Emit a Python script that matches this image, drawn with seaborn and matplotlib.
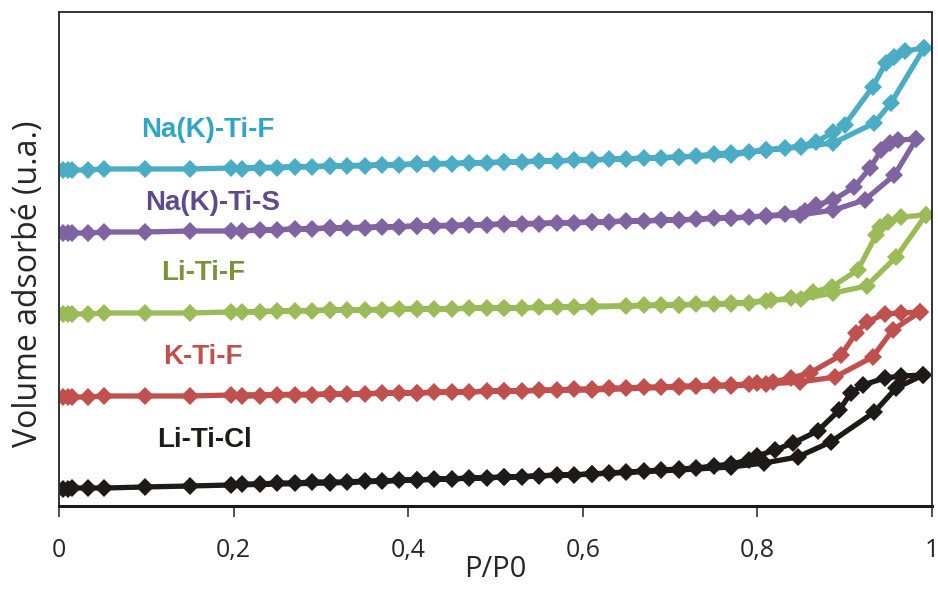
import matplotlib
matplotlib.use("Agg")
import matplotlib.pyplot as plt
import seaborn as sns
import pandas as pd

# ---------------- data (arbitrary units) ----------------
samples = ["Li-Ti-Cl", "K-Ti-F", "Li-Ti-F", "Na(K)-Ti-S", "Na(K)-Ti-F"]

line_colors = ["#1E1A1A", "#C0504D", "#9BBB59", "#8064A2", "#4BACC6"]
label_colors = ["#1E1A1A", "#C0504D", "#77933C", "#5F4B8B", "#31A5C4"]

# label anchor positions (P/P0, volume)
label_x = [0.167, 0.165, 0.165, 0.176, 0.170]
label_y = [66, 149, 233, 303, 376]

# adsorption branch
ads_x = [0.005, 0.01, 0.015, 0.033, 0.052, 0.098, 0.15, 0.197,
         0.31, 0.41, 0.51, 0.61, 0.71, 0.77]
ads_x_hyst = {
    "Li-Ti-Cl":   [0.808, 0.846, 0.884, 0.934, 0.959, 0.99],
    "K-Ti-F":     [0.81, 0.849, 0.889, 0.932, 0.955, 0.986],
    "Li-Ti-F":    [0.816, 0.85, 0.887, 0.925, 0.959, 0.993],
    "Na(K)-Ti-S": [0.81, 0.849, 0.887, 0.923, 0.957, 0.982],
    "Na(K)-Ti-F": [0.81, 0.85, 0.887, 0.934, 0.953, 0.991],
}
ads_y = {
    "Li-Ti-Cl":   [17, 17, 18, 18, 18, 19, 20, 21, 23, 26, 29, 32, 36, 39,
                   43, 49, 64, 94, 118, 131],
    "K-Ti-F":     [109, 109, 109, 109, 110, 110, 110, 111, 112, 113, 115, 116, 119, 120,
                   122, 124, 129, 149, 176, 194],
    "Li-Ti-F":    [192, 192, 192, 192, 193, 193, 193, 194, 196, 197, 198, 199, 201, 202,
                   206, 207, 213, 220, 249, 291],
    "Na(K)-Ti-S": [273, 273, 273, 273, 274, 274, 275, 275, 278, 280, 282, 284, 286, 288,
                   290, 291, 296, 306, 331, 367],
    "Na(K)-Ti-F": [336, 336, 336, 336, 337, 337, 337, 338, 340, 342, 344, 346, 349, 351,
                   356, 359, 363, 383, 403, 458],
}

# desorption branch
des_grid_x = [0.79, 0.77, 0.75, 0.73, 0.71, 0.69, 0.67, 0.65, 0.63, 0.61,
              0.59, 0.57, 0.55, 0.53, 0.51, 0.49, 0.47, 0.45, 0.43, 0.41,
              0.39, 0.37, 0.35, 0.33, 0.31, 0.29, 0.27, 0.25, 0.23, 0.21]
des_grid_x_litif = [0.79, 0.77, 0.75, 0.73, 0.71, 0.69, 0.67, 0.65, 0.61,
                    0.59, 0.57, 0.55, 0.53, 0.51, 0.49, 0.47, 0.45, 0.43, 0.41,
                    0.39, 0.37, 0.35, 0.33, 0.31, 0.29, 0.27, 0.25, 0.23, 0.21]
des_x_hyst = {
    "Li-Ti-Cl":   [0.99, 0.965, 0.946, 0.921, 0.907, 0.894, 0.869, 0.841, 0.82, 0.80],
    "K-Ti-F":     [0.986, 0.965, 0.946, 0.925, 0.913, 0.896, 0.86, 0.838, 0.818, 0.80],
    "Li-Ti-F":    [0.993, 0.965, 0.95, 0.94, 0.936, 0.915, 0.885, 0.864, 0.839, 0.81],
    "Na(K)-Ti-S": [0.982, 0.961, 0.952, 0.942, 0.929, 0.911, 0.887, 0.867, 0.855, 0.832, 0.81],
    "Na(K)-Ti-F": [0.991, 0.969, 0.957, 0.947, 0.932, 0.90, 0.887, 0.867, 0.85, 0.832, 0.81],
}
des_y = {
    "Li-Ti-Cl":   [131, 130, 128, 121, 113, 96, 75, 63, 56, 50,
                   46, 42, 40, 38, 37, 36, 35, 34, 33, 32, 31, 31, 30, 29, 29,
                   28, 28, 27, 27, 26, 26, 25, 25, 24, 24, 24, 23, 23, 22, 22],
    "K-Ti-F":     [194, 193, 192, 184, 173, 151, 133, 128, 124, 123,
                   122, 121, 121, 120, 120, 119, 119, 118, 118, 117, 117, 116, 116, 115, 115,
                   115, 114, 114, 114, 113, 113, 113, 112, 112, 112, 111, 111, 111, 110, 110],
    "Li-Ti-F":    [291, 289, 284, 279, 271, 236, 219, 214, 208, 205,
                   203, 203, 202, 202, 201, 201, 201, 200, 200, 199, 199, 199, 198, 198,
                   198, 198, 197, 197, 197, 197, 196, 196, 196, 196, 195, 195, 195, 194, 194],
    "Na(K)-Ti-S": [367, 366, 363, 356, 338, 319, 306, 301, 295, 292, 290,
                   289, 288, 288, 287, 286, 286, 285, 285, 284, 284, 283, 283, 282, 282, 282,
                   281, 281, 280, 280, 280, 279, 279, 278, 278, 278, 277, 277, 276, 276, 275],
    "Na(K)-Ti-F": [458, 455, 449, 443, 419, 381, 374, 364, 360, 358, 356,
                   354, 353, 352, 350, 349, 348, 348, 347, 347, 346, 346, 345, 345, 344, 344,
                   343, 343, 342, 342, 342, 341, 341, 340, 340, 340, 339, 339, 338, 338, 337],
}

x_ticks = [0, 0.2, 0.4, 0.6, 0.8, 1.0]
x_tick_labels = ["0", "0,2", "0,4", "0,6", "0,8", "1"]

# ---------------- build long table ----------------
rows = []
for s in samples:
    grid = des_grid_x_litif if s == "Li-Ti-F" else des_grid_x
    xs = ads_x + ads_x_hyst[s] + des_x_hyst[s] + grid
    ys = ads_y[s] + des_y[s]
    for i, (xv, yv) in enumerate(zip(xs, ys)):
        rows.append({"P": xv, "V": yv, "sample": s, "order": i})
df = pd.DataFrame(rows)

# ---------------- plot ----------------
sns.set_theme(style="white")
plt.rcParams["font.family"] = ["Open Sans", "DejaVu Sans"]

fig = plt.figure(figsize=(9.38, 5.9), dpi=100)
ax = fig.add_axes([59 / 938, 84 / 590, 873 / 938, 494 / 590])

for s, c in zip(samples, line_colors):
    sub = df[df["sample"] == s]
    sns.lineplot(data=sub, x="P", y="V", sort=False, estimator=None, ax=ax,
                 color=c, linewidth=3.8, marker="D", markersize=8.8,
                 markeredgewidth=0, markerfacecolor=c, legend=False)

for s, lc, lx, ly in zip(samples, label_colors, label_x, label_y):
    ax.text(lx, ly, s, color=lc, fontsize=20, fontweight="bold",
            ha="center", va="center", family=["Liberation Sans", "DejaVu Sans"])

ax.set_xlim(0, 1)
ax.set_ylim(0, 494)
ax.set_xticks(x_ticks)
ax.set_xticklabels(x_tick_labels, fontsize=18)
ax.set_yticks([])
ax.tick_params(axis="x", direction="out", length=8, width=1.2, color="#333333",
               pad=15, bottom=True)
ax.set_xlabel("P/P0", fontsize=21, labelpad=-6)
ax.set_ylabel("Volume adsorbé (u.a.)", fontsize=23)
ax.yaxis.set_label_coords(-0.016, 0.45)

for side in ["top", "right", "left"]:
    ax.spines[side].set_visible(True)
    ax.spines[side].set_color("#333333")
    ax.spines[side].set_linewidth(1.4)
ax.spines["bottom"].set_color("#1a1a1a")
ax.spines["bottom"].set_linewidth(2.2)

fig.savefig("out.png", dpi=100)
